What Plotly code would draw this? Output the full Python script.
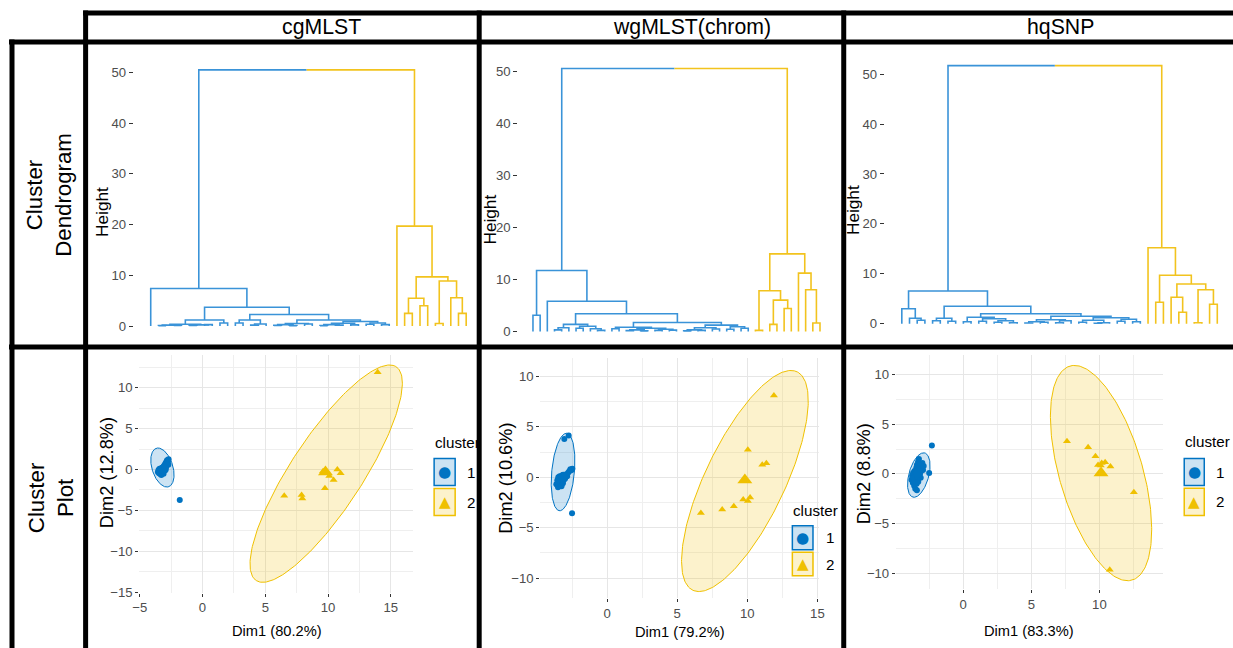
import numpy as np
import plotly.graph_objects as go

W, H = 1233, 648
# the photographed page is fitted into the frame with a small uniform scale and horizontal
# centring; geometry below is expressed in final-picture pixels and mapped back to page pixels.
FIT_SCALE, FIT_DX, FIT_DY = 0.988, 7.5, 0.0

BLUE, YELLOW = "#0073C2", "#EFC000"
BLUE_LINE, YELLOW_LINE = "#3A93D8", "#F2C31E"
BLUE_FILL, YELLOW_FILL = "rgba(0,115,194,0.2)", "rgba(239,192,0,0.2)"
NARROW = "Liberation Sans Narrow, Arial Narrow, Liberation Sans, Arial, sans-serif"
REG = "Liberation Sans, Arial, sans-serif"

# ---------------- data ----------------
methods = ["cgMLST", "wgMLST(chrom)", "hqSNP"]
row_labels = ["Cluster<br>Dendrogram", "Cluster<br>Plot"]
dim1_pct = ["80.2%", "79.2%", "83.3%"]
dim2_pct = ["12.8%", "10.6%", "8.8%"]
cluster_names = ["1", "2"]
height_ticks = [0, 10, 20, 30, 40, 50]

# dendrograms: node = [merge height, left, right]; leaf = 0
root_heights = [50.5, 50.5, 51.7]

tree_cg_1 = [7.4, 0, [3.7,
                      [1.2, [0.35, [0.2, [0.1, 0, 0], [0.15, 0, 0]], [0.25, [0.12, 0, 0], [0.3, 0, 0]]], [0.6, 0, 0]],
                      [2.3, [1.2, [0.6, 0, 0], [0.4, [0.2, 0, 0], 0]],
                            [1.2, [0.5, [0.3, [0.15, 0, 0], [0.1, 0, 0]], [0.4, 0, 0]],
                                  [0.9, [0.55, [0.3, [0.1, 0, 0], [0.2, 0, 0]], [0.25, 0, 0]],
                                        [0.6, [0.35, 0, 0], [0.3, 0, 0]]]]]]]
tree_cg_2 = [19.7, 0, [9.7, [5.5, [2.5, 0, 0], [4.0, 0, 0]],
                            [8.9, [0.5, 0, 0], [5.6, 0, [2.5, 0, 0]]]]]

tree_wg_1 = [11.7, [3.1, 0, 0],
             [5.8, 0,
              [3.4,
               [1.35, [0.7, [0.3, 0, 0], 0], [1.0, [0.6, 0, 0], [0.5, 0, [0.2, 0, 0]]]],
               [1.7,
                [0.8, [0.5, 0, 0], [0.6, [0.3, [0.15, 0, 0], [0.1, 0, 0]], [0.4, [0.2, 0, 0], [0.25, 0, 0]]]],
                [1.2, [0.7, [0.3, [0.1, 0, 0], [0.2, 0, 0]], [0.45, 0, 0]],
                      [0.9, [0.4, 0, 0], [0.6, 0, 0]]]]]]]
tree_wg_2 = [14.9, [7.8, [0.2, 0, 0], [6.0, [1.35, 0, 0], [4.4, 0, 0]]],
                   [11.2, 0, [8.0, 0, [1.6, 0, 0]]]]

tree_hq_1 = [6.55, [3.0, 0, [1.1, 0, [0.7, 0, 0]]],
             [3.5, [1.1, [0.6, 0, 0], [0.5, 0, 0]],
                   [2.0, [1.3, [0.4, 0, 0], [1.0, [0.5, 0, 0], [0.6, [0.3, 0, 0], [0.2, 0, 0]]]],
                         [1.5, [0.8, [0.4, [0.15, 0, 0], [0.3, 0, 0]], [0.6, [0.2, 0, 0], 0]],
                               [1.2, [0.7, [0.3, 0, 0], [0.2, [0.1, 0, 0], 0]],
                                     [0.9, [0.5, 0, 0], [0.4, 0, 0]]]]]]]
tree_hq_2 = [15.2, 0, [9.7, [4.3, 0, 0], [7.95, [5.3, 0, [2.3, 0, 0]], [6.8, [0.2, 0, 0], [3.9, 0, 0]]]]]

# cluster plots (PCA coordinates)
x1_cg = [-3.55, -3.50, -3.46, -3.42, -3.40, -3.36, -3.33, -3.30, -3.28, -3.25, -3.22, -3.20, -3.17, -3.14, -3.12,
         -3.08, -3.05, -3.02, -2.98, -2.95, -2.92, -2.88, -2.85, -2.82, -2.78, -2.75, -2.72, -2.70, -3.30, -3.10,
         -1.81, -2.90]
y1_cg = [-0.30, -0.05, -0.45, 0.10, -0.20, -0.55, 0.05, -0.35, -0.65, 0.20, -0.10, -0.40, 0.25, 0.00, -0.30,
         0.40, 0.10, 0.55, 0.30, 0.75, 0.50, 0.95, 0.70, 1.15, 0.85, 1.05, 0.60, 1.25, -0.15, -0.50,
         -3.71, 0.35]
x2_cg = [13.95, 6.51, 7.89, 7.95, 9.75, 10.44, 10.74, 11.00, 9.60, 10.10]
y2_cg = [11.92, -3.19, -3.10, -3.55, -2.29, -1.27, 0.00, -0.45, -0.20, -0.80]

x1_wg = [-3.62, -3.55, -3.50, -3.48, -3.45, -3.42, -3.40, -3.38, -3.35, -3.32, -3.30, -3.28, -3.25, -3.22, -3.20,
         -3.18, -3.15, -3.10, -3.05, -3.00, -2.95, -2.90, -2.85, -2.78, -2.70, -2.62, -2.55, -2.48, -3.05, -2.74,
         -2.50]
y1_wg = [-0.70, -0.30, -1.00, 0.00, -0.50, -0.20, -0.80, 0.10, -0.40, -0.65, 0.05, -0.25, -0.90, -0.10, -0.45,
         0.20, -0.60, -0.30, 0.00, -0.15, 0.15, 0.30, 0.10, 0.45, 0.60, 0.80, 0.70, 0.85, 3.80, 4.14,
         -3.57]
x2_wg = [11.90, 10.04, 11.07, 11.36, 9.71, 10.04, 9.04, 8.21, 6.69, 10.20]
y2_wg = [8.10, 2.72, 1.23, 1.39, -2.21, -2.34, -2.87, -3.20, -3.53, -2.00]

x1_hq = [-3.80, -3.75, -3.70, -3.68, -3.65, -3.60, -3.58, -3.55, -3.52, -3.50, -3.48, -3.45, -3.42, -3.40, -3.38,
         -3.35, -3.32, -3.30, -3.28, -3.25, -3.22, -3.20, -3.15, -3.12, -3.10, -3.05, -3.00, -2.95, -2.90, -3.40,
         -2.50, -2.30]
y1_hq = [-0.60, -0.20, -0.90, 0.10, -0.40, -1.20, 0.30, -0.70, -1.50, 0.00, -0.30, 0.60, -1.00, 0.90, -0.50,
         0.20, 1.20, -0.80, 0.50, 1.50, -0.10, 0.80, 1.00, -0.40, 0.30, 0.60, 1.10, 0.40, 0.80, -1.65,
         0.10, 2.85]
x2_hq = [7.62, 9.17, 9.71, 10.17, 10.42, 10.81, 12.53, 10.76, 9.90, 10.10]
y2_hq = [3.29, 2.68, 1.78, 1.10, 1.16, 0.74, -1.85, -9.65, 0.90, 0.85]

# normal-probability ellipses: centre x, centre y, semi-axis a, semi-axis b, angle (deg)
ell1_cg = [-3.19, 0.25, 2.42, 0.85, 99.5]
ell2_cg = [9.85, -0.50, 14.28, 3.13, 68.1]
ell1_wg = [-3.14, 0.52, 3.85, 0.81, 86.3]
ell2_wg = [9.83, -0.37, 11.47, 2.97, 72.1]
ell1_hq = [-3.26, -0.12, 2.27, 0.74, 80.0]
ell2_hq = [10.12, 0.08, 11.03, 3.11, 101.1]

# ---------------- helpers ----------------
def px_x(p):
    return ((p - FIT_DX) / FIT_SCALE) / W


def px_y(p):
    return 1 - ((p - FIT_DY) / FIT_SCALE) / H


def clamp01(v):
    return min(1.0, max(0.0, v))


def fs(size):
    return size / FIT_SCALE


def tree_segments(node, counter):
    if node == 0:
        counter[0] += 1
        return counter[0], 0.0, [], []
    h, left, right = node
    xl, hl, xsl, ysl = tree_segments(left, counter)
    xr, hr, xsr, ysr = tree_segments(right, counter)
    xs = xsl + xsr + [xl, xl, xr, xr, None]
    ys = ysl + ysr + [hl, h, h, hr, None]
    return (xl + xr) / 2, h, xs, ys


def dendro(t1, t2, root_h):
    counter = [0]
    xb, hb, xs_b, ys_b = tree_segments(t1, counter)
    xy, hy, xs_y, ys_y = tree_segments(t2, counter)
    mid = (xb + xy) / 2
    xs_b += [xb, xb, mid, None]
    ys_b += [hb, root_h, root_h, None]
    xs_y += [mid, xy, xy, None]
    ys_y += [root_h, root_h, hy, None]
    return xs_b, ys_b, xs_y, ys_y, counter[0]


def ellipse(p):
    cx, cy, a, b, ang = p
    t = np.linspace(0, 2 * np.pi, 240)
    th = np.radians(ang)
    x = cx + a * np.cos(t) * np.cos(th) - b * np.sin(t) * np.sin(th)
    y = cy + a * np.cos(t) * np.sin(th) + b * np.sin(t) * np.cos(th)
    return x, y


fig = go.Figure()
layout = {}

# ---------------- dendrograms ----------------
trees = [(tree_cg_1, tree_cg_2), (tree_wg_1, tree_wg_2), (tree_hq_1, tree_hq_2)]
# pixel geometry: y0 px, y50 px, left, right, first leaf, last leaf, top, bottom
dgeo = [(325.7, 72.3, 134, 474, 151, 466, 47, 336),
        (331.0, 71.0, 518, 832, 532.7, 819.3, 47, 340),
        (323.3, 74.0, 884, 1224, 901, 1216, 47, 333)]
height_title_pos = [(103, 212), (490, 219), (853, 210)]

for i in range(3):
    ax = i + 1
    xs_b, ys_b, xs_y, ys_y, n = dendro(trees[i][0], trees[i][1], root_heights[i])
    for xs, ys, col in [(xs_b, ys_b, BLUE_LINE), (xs_y, ys_y, YELLOW_LINE)]:
        fig.add_trace(go.Scatter(x=xs, y=ys, mode="lines", line=dict(color=col, width=1.6),
                                 xaxis=f"x{ax}", yaxis=f"y{ax}", hoverinfo="skip", showlegend=False))
    p0, p50, left, right, first, last, top, bottom = dgeo[i]
    s = (last - first) / (n - 1)
    k = (p0 - p50) / 50
    layout[f"xaxis{ax}"] = dict(domain=[clamp01(px_x(left)), clamp01(px_x(right))],
                                range=[1 + (left - first) / s, 1 + (right - first) / s],
                                anchor=f"y{ax}", visible=False, fixedrange=True)
    layout[f"yaxis{ax}"] = dict(domain=[clamp01(px_y(bottom)), clamp01(px_y(top))],
                                range=[(p0 - bottom) / k, (p0 - top) / k],
                                anchor=f"x{ax}", showgrid=False, zeroline=False, showline=False,
                                ticks="outside", ticklen=4, tickwidth=1, tickcolor="#333333",
                                tickvals=height_ticks,
                                tickfont=dict(family=NARROW, size=fs(13), color="#4D4D4D"),
                                fixedrange=True)

# ---------------- cluster plots ----------------
pts = [(x1_cg, y1_cg, x2_cg, y2_cg, ell1_cg, ell2_cg),
       (x1_wg, y1_wg, x2_wg, y2_wg, ell1_wg, ell2_wg),
       (x1_hq, y1_hq, x2_hq, y2_hq, ell1_hq, ell2_hq)]
# origin x px, px/unit x, origin y px, px/unit y, left, right, top, bottom
sgeo = [(202.7, 12.54, 469.0, 8.16, 139.5, 412.7, 355, 591.8),
        (606.7, 14.0, 476.7, 10.08, 540, 818, 358, 597),
        (962.3, 13.6, 473.3, 9.92, 895, 1161.7, 355, 588)]

for i in range(3):
    ax = i + 4
    x1, y1, x2, y2, e1, e2 = pts[i]
    for e, lc, fc in [(e1, BLUE, BLUE_FILL), (e2, YELLOW, YELLOW_FILL)]:
        ex, ey = ellipse(e)
        fig.add_trace(go.Scatter(x=ex, y=ey, mode="lines", fill="toself", fillcolor=fc,
                                 line=dict(color=lc, width=1), xaxis=f"x{ax}", yaxis=f"y{ax}",
                                 hoverinfo="skip", showlegend=False))
    fig.add_trace(go.Scatter(x=x1, y=y1, mode="markers",
                             marker=dict(symbol="circle", size=6, color=BLUE),
                             xaxis=f"x{ax}", yaxis=f"y{ax}", showlegend=False))
    fig.add_trace(go.Scatter(x=x2, y=y2, mode="markers",
                             marker=dict(symbol="triangle-up", size=7, color=YELLOW),
                             xaxis=f"x{ax}", yaxis=f"y{ax}", showlegend=False))
    fig.add_trace(go.Scatter(x=[np.mean(x1)], y=[np.mean(y1)], mode="markers",
                             marker=dict(symbol="circle", size=10, color=BLUE),
                             xaxis=f"x{ax}", yaxis=f"y{ax}", showlegend=False))
    fig.add_trace(go.Scatter(x=[np.mean(x2)], y=[np.mean(y2)], mode="markers",
                             marker=dict(symbol="triangle-up", size=13, color=YELLOW),
                             xaxis=f"x{ax}", yaxis=f"y{ax}", showlegend=False))
    ox, sx, oy, sy, left, right, top, bottom = sgeo[i]
    common = dict(showgrid=True, gridcolor="#E6E6E6", gridwidth=1, zeroline=False, showline=False,
                  ticks="outside", ticklen=3, tickwidth=1, tickcolor="#333333", dtick=5, tick0=0,
                  minor=dict(showgrid=True, dtick=2.5, gridcolor="#EFEFEF", gridwidth=0.8),
                  tickfont=dict(family=NARROW, size=fs(13), color="#4D4D4D"), fixedrange=True)
    layout[f"xaxis{ax}"] = dict(domain=[clamp01(px_x(left)), clamp01(px_x(right))],
                                range=[(left - ox) / sx, (right - ox) / sx], anchor=f"y{ax}", **common)
    layout[f"yaxis{ax}"] = dict(domain=[clamp01(px_y(bottom)), clamp01(px_y(top))],
                                range=[(oy - bottom) / sy, (oy - top) / sy], anchor=f"x{ax}", **common)

# ---------------- annotations ----------------
ann = []


def text(x, y, s, size, family=REG, color="black", angle=0, xanchor="center"):
    ann.append(dict(x=px_x(x), y=px_y(y), xref="paper", yref="paper", text=s, showarrow=False,
                    font=dict(family=family, size=fs(size), color=color), textangle=angle,
                    xanchor=xanchor, yanchor="middle"))


for name, cx in zip(methods, [322, 691, 1059]):
    text(cx, 27, name, 21)
text(50, 195, row_labels[0], 22, angle=-90)
text(51, 497, row_labels[1], 22, angle=-90)

for (hx, hy) in height_title_pos:
    text(hx, hy, "Height", 17, angle=-90)

dim1_pos = [(277, 630), (680, 631), (1028, 630)]
dim2_pos = [(107, 472), (505, 478), (863, 473)]
for i in range(3):
    text(dim1_pos[i][0], dim1_pos[i][1], f"Dim1 ({dim1_pct[i]})", 14.5, family=NARROW)
    text(dim2_pos[i][0], dim2_pos[i][1], f"Dim2 ({dim2_pct[i]})", 18, angle=-90)

# manual legends: title x, title y, box left, box right, box1 top, box1 bottom, box2 top, box2 bottom, label x
legends = [(433, 442, 434, 455, 458, 485, 488, 515, 465),
           (790, 510, 791.7, 812.3, 525, 549, 551.7, 575, 823),
           (1181.7, 440.7, 1183, 1203, 458, 485, 487.7, 515, 1212.7)]
shapes = []
for (tx, ty, bl, br, b1t, b1b, b2t, b2b, lx) in legends:
    text(tx, ty, "cluster", 15, family=NARROW, xanchor="left")
    for (t, b, lc, fc, glyph, gs, lab) in [(b1t, b1b, BLUE, BLUE_FILL, "●", 15, cluster_names[0]),
                                           (b2t, b2b, YELLOW, YELLOW_FILL, "▲", 15, cluster_names[1])]:
        shapes.append(dict(type="rect", xref="paper", yref="paper", x0=px_x(bl), x1=px_x(br),
                           y0=px_y(b), y1=px_y(t), line=dict(color=lc, width=1.5), fillcolor=fc))
        text((bl + br) / 2, (t + b) / 2, glyph, gs, family="DejaVu Sans", color=lc)
        text(lx, (t + b) / 2, lab, 15, family=NARROW, xanchor="left")

# ---------------- table borders ----------------
border_h = [(13, 86, W + 10), (42, 12, W + 10), (346.5, 12, W + 10)]
border_v = [(12.5, 42, H + 10), (86, 13, H + 10), (479, 13, H + 10), (843, 13, H + 10)]
for (y, x0, x1) in border_h:
    shapes.append(dict(type="line", xref="paper", yref="paper", x0=px_x(x0 - 2.5), x1=px_x(x1),
                       y0=px_y(y), y1=px_y(y), line=dict(color="black", width=5), layer="above"))
for (x, y0, y1) in border_v:
    shapes.append(dict(type="line", xref="paper", yref="paper", x0=px_x(x), x1=px_x(x),
                       y0=px_y(y0 - 2.5), y1=px_y(y1), line=dict(color="black", width=5), layer="above"))

fig.update_layout(width=W, height=H, margin=dict(l=0, r=0, t=0, b=0),
                  paper_bgcolor="white", plot_bgcolor="white", showlegend=False,
                  annotations=ann, shapes=shapes, **layout)

fig.write_html("out.html", include_plotlyjs=True, config={"displayModeBar": False},
               post_script="document.body.style.margin='0px';document.body.style.overflow='hidden';")
